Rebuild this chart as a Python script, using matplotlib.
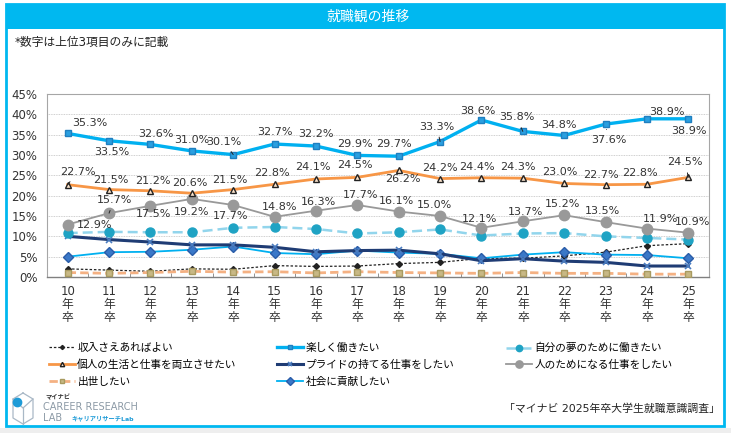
import numpy as np
import matplotlib.pyplot as plt
from matplotlib.patches import Rectangle
from matplotlib.lines import Line2D
from matplotlib.ticker import PercentFormatter, FixedLocator

plt.rcParams['font.family'] = ['DejaVu Sans', 'Noto Sans CJK JP']

years = [str(y) for y in range(10, 26)]
tick_labels = [f"{y}\n年\n卒" for y in years]

shunyu = [2.0, 1.7, 1.4, 2.0, 1.9, 2.8, 2.6, 2.7, 3.3, 3.6, 4.6, 4.6, 5.2, 6.1, 7.7, 8.2]
tanoshiku = [35.3, 33.5, 32.6, 31.0, 30.1, 32.7, 32.2, 29.9, 29.7, 33.3, 38.6, 35.8, 34.8, 37.6, 38.9, 38.9]
yume = [10.8, 11.1, 11.0, 11.0, 12.1, 12.3, 11.8, 10.7, 11.0, 11.7, 10.2, 10.7, 10.8, 10.0, 9.6, 9.2]
kojin = [22.7, 21.5, 21.2, 20.6, 21.5, 22.8, 24.1, 24.5, 26.2, 24.2, 24.4, 24.3, 23.0, 22.7, 22.8, 24.5]
pride = [10.0, 9.2, 8.6, 7.9, 7.9, 7.3, 6.2, 6.5, 6.6, 5.7, 4.0, 4.5, 3.9, 3.6, 2.7, 2.7]
hito = [12.9, 15.7, 17.5, 19.2, 17.7, 14.8, 16.3, 17.7, 16.1, 15.0, 12.1, 13.7, 15.2, 13.5, 11.9, 10.9]
shusse = [1.1, 0.9, 1.1, 1.4, 1.2, 1.3, 1.0, 1.3, 1.1, 1.0, 0.9, 1.1, 0.9, 0.9, 0.7, 0.7]
shakai = [5.0, 6.1, 6.2, 6.7, 7.5, 5.9, 5.6, 6.5, 6.0, 5.7, 4.6, 5.5, 6.1, 5.5, 5.4, 4.6]

W, H = 731, 433
def fx(x):
    return x / W
def fy(y):
    return 1 - y / H

fig = plt.figure(figsize=(W / 100, H / 100), dpi=100)
ax = fig.add_axes([fx(47), fy(277), fx(709) - fx(47), fy(94) - fy(277)])
x = np.arange(len(years))

blue = '#00B0F0'
s_shunyu, = ax.plot(x, shunyu, color='#222222', lw=0.9, ls=(0, (2, 1.5)), marker='D', ms=3,
                    mfc='#222222', mec='#222222', label='収入さえあればよい', zorder=3)
s_shusse, = ax.plot(x, shusse, color='#F4B183', lw=2, ls=(0, (3, 1.5)), marker='s', ms=5,
                    mfc='#C8B885', mec='#A89A60', label='出世したい', zorder=3)
s_shakai, = ax.plot(x, shakai, color=blue, lw=1.3, marker='D', ms=5.5,
                    mfc='#3A78C8', mec='#2A5CA8', label='社会に貢献したい', zorder=4)
s_pride, = ax.plot(x, pride, color='#1F3C74', lw=2.2, marker='x', ms=4.5, mew=1.2,
                   mec='#4A7CC0', label='プライドの持てる仕事をしたい', zorder=4)
s_yume, = ax.plot(x, yume, color='#92D5EC', lw=1.8, ls=(0, (4, 2)), marker='o', ms=6.5,
                  mfc='#1FA3C4', mec='#1FA3C4', label='自分の夢のために働きたい', zorder=4)
s_hito, = ax.plot(x, hito, color='#999999', lw=1.3, marker='o', ms=7.5,
                  mfc='#999999', mec='#999999', label='人のためになる仕事をしたい', zorder=5)
s_kojin, = ax.plot(x, kojin, color='#F79646', lw=2, marker='^', ms=4.5, mew=1,
                   mfc='#FCE4CC', mec='#222222', label='個人の生活と仕事を両立させたい', zorder=6)
s_tano, = ax.plot(x, tanoshiku, color=blue, lw=2.4, marker='s', ms=5,
                  mfc='#2A9FE0', mec='#1F7FC0', label='楽しく働きたい', zorder=7)

# label offsets in pixels (dx, dy up), 1 = leader line
off_tano = [(22, 10, 0), (3, -11, 0), (5, 10, 0), (0, 11, 0), (-9, 13, 1), (0, 12, 0), (0, 12, 0), (-2, 11, 0),
            (-5, 12, 0), (-3, 15, 1), (-4, 9, 0), (-6, 14, 1), (-5, 10, 0), (3, -16, 1), (20, 7, 0), (1, -12, 0)]
off_kojin = [(10, 13, 1), (2, 10, 0), (2, 10, 0), (-2, 10, 0), (-3, 10, 0), (-3, 11, 0), (-3, 12, 0), (-2, 12, 0),
             (4, -9, 0), (0, 11, 0), (-4, 11, 0), (-5, 11, 0), (-4, 11, 0), (-5, 10, 0), (-7, 11, 0), (-3, 15, 1)]
off_hito = [(27, 0, 0), (5, 13, 1), (3, -8, 0), (0, -13, 0), (-3, -11, 0), (5, 10, 0), (3, 9, 0), (3, 10, 0),
            (-2, 11, 0), (-6, 11, 0), (-2, 9, 0), (3, 9, 0), (-2, 11, 0), (-3, 11, 0), (14, 10, 0), (4, 11, 0)]

for vals, offs in [(tanoshiku, off_tano), (kojin, off_kojin), (hito, off_hito)]:
    for i, (v, (dx, dy, lead)) in enumerate(zip(vals, offs)):
        props = dict(arrowstyle='-', color='#222222', lw=0.7, shrinkA=2, shrinkB=4) if lead else None
        ax.annotate(f"{v:.1f}%", (i, v), xytext=(dx, dy), textcoords='offset pixels',
                    ha='center', va='center', fontsize=8, color='#333333',
                    arrowprops=props, zorder=10)

ax.set_xlim(-0.5, len(years) - 0.5)
ax.set_ylim(0, 45)
ax.set_yticks(np.arange(0, 46, 5))
ax.yaxis.set_major_formatter(PercentFormatter(decimals=0))
ax.set_xticks(x)
ax.set_xticklabels(tick_labels, linespacing=1.0)
ax.xaxis.set_minor_locator(FixedLocator(np.arange(-0.5, len(years), 1)))
ax.tick_params(axis='y', length=0, pad=7, labelsize=8.5, labelcolor='#333333')
ax.tick_params(axis='x', which='major', length=0, pad=6, labelsize=8.5, labelcolor='#333333')
ax.tick_params(axis='x', which='minor', direction='in', length=3, color='#808080')
ax.grid(axis='y', color='#BFBFBF', lw=0.6, ls=(0, (1, 1)))
ax.set_axisbelow(True)
for side in ['top', 'right', 'left']:
    ax.spines[side].set_color('#A6A6A6')
    ax.spines[side].set_linewidth(0.8)
ax.spines['bottom'].set_color('#808080')
ax.spines['bottom'].set_linewidth(1.0)

# legend in three columns
cols = [([s_shunyu, s_kojin, s_shusse], 49), ([s_tano, s_pride, s_shakai], 277), ([s_yume, s_hito], 506)]
for handles, xpos in cols:
    fig.legend(handles=handles, loc='upper left', bbox_to_anchor=(fx(xpos), fy(343)),
               frameon=False, fontsize=7.7, handlelength=2.4, handletextpad=0.25,
               labelspacing=0.62, borderpad=0, borderaxespad=0, markerscale=0.7)

# frame, title bar
fig.patches.append(Rectangle((fx(6), fy(426)), fx(724) - fx(6), fy(4) - fy(426), transform=fig.transFigure,
                             fill=False, ec='#00B8F0', lw=2, zorder=0))
fig.patches.append(Rectangle((fx(6), fy(29)), fx(724) - fx(6), fy(4) - fy(29), transform=fig.transFigure,
                             fc='#00B8F0', ec='none', zorder=0))
fig.patches.append(Rectangle((0, 0), 1, fy(428), transform=fig.transFigure, fc='#EEEEEE', ec='none', zorder=0))
fig.text(fx(368), fy(17), '就職観の推移', color='white', fontsize=10, ha='center', va='center')
fig.text(fx(15), fy(42), '*数字は上位3項目のみに記載', fontsize=8.5, ha='left', va='center', color='#222222')
fig.text(fx(720), fy(409), '「マイナビ 2025年卒大学生就職意識調査」', fontsize=7.8, ha='right', va='center', color='#222222')

# logo
hx = np.array([23, 33, 33, 23, 13, 13, 23])
hy = np.array([393, 399, 418, 424, 418, 399, 393])
fig.add_artist(Line2D(fx(hx), fy(hy), color='#A9B8C6', lw=0.9, transform=fig.transFigure))
fig.add_artist(Line2D(fx(np.array([13, 23, 33])), fy(np.array([399, 408, 399])), color='#A9B8C6', lw=0.9,
                      transform=fig.transFigure))
fig.add_artist(Line2D(fx(np.array([23, 23])), fy(np.array([408, 424])), color='#A9B8C6', lw=0.9,
                      transform=fig.transFigure))
fig.add_artist(Line2D([fx(17)], [fy(402)], marker='o', ms=6, color='#1E9BD7', transform=fig.transFigure))
fig.text(fx(45), fy(397), 'マイナビ', fontsize=4.5, fontweight='bold', color='#333333', va='center')
fig.text(fx(43), fy(407), 'CAREER RESEARCH', fontsize=7, color='#8C9AA6', va='center')
fig.text(fx(43), fy(418), 'LAB', fontsize=7, color='#8C9AA6', va='center')
fig.text(fx(71), fy(418), 'キャリアリサーチLab', fontsize=4.5, fontweight='bold', color='#1E9BD7', va='center')

fig.savefig('out.png', dpi=100)
